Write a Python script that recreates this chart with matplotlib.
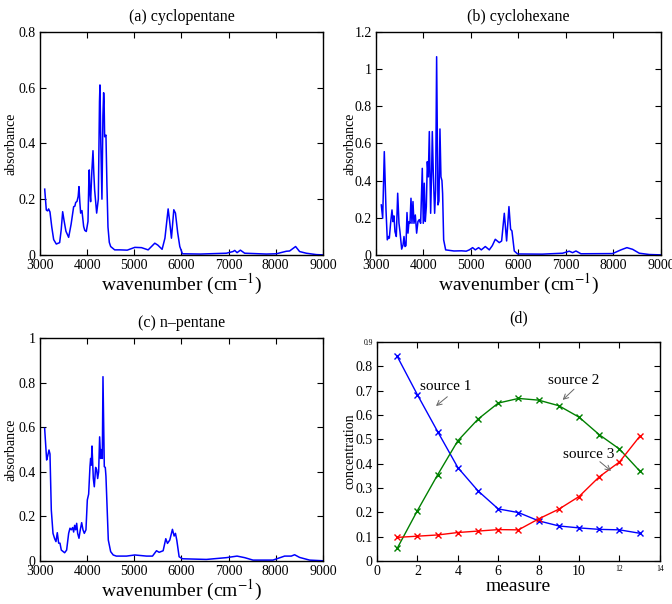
import matplotlib
matplotlib.use('Agg')
import matplotlib.pyplot as plt
from matplotlib.ticker import FuncFormatter

plt.rcParams['font.family'] = ['Liberation Serif', 'DejaVu Serif']
plt.rcParams['mathtext.fontset'] = 'stix'

# (a) cyclopentane
wn_a = [3100, 3134, 3160, 3183, 3212, 3250, 3290, 3346, 3417, 3450, 3481, 3509, 3550, 3608,
        3660, 3714, 3740, 3757, 3785, 3810, 3827, 3845, 3862, 3890, 3926, 3950, 3982, 4018,
        4040, 4046, 4060, 4074, 4100, 4124, 4140, 4159, 4202, 4237, 4262, 4272, 4290, 4314,
        4335, 4350, 4360, 4371, 4399, 4420, 4442, 4470, 4499, 4584, 4700, 4850, 5012, 5153,
        5294, 5435, 5500, 5590, 5650, 5718, 5750, 5788, 5838, 5873, 5920, 5965, 6021, 6400,
        6953, 7094, 7130, 7180, 7250, 7341, 7800, 8012, 8224, 8294, 8421, 8506, 8647, 8859, 9000]
abs_a = [0.236, 0.161, 0.158, 0.165, 0.154, 0.10, 0.055, 0.039, 0.044, 0.09, 0.155, 0.125, 0.085, 0.063,
         0.11, 0.173, 0.175, 0.188, 0.192, 0.21, 0.245, 0.19, 0.150, 0.159, 0.102, 0.088, 0.084, 0.12,
         0.30, 0.305, 0.22, 0.191, 0.30, 0.374, 0.30, 0.233, 0.150, 0.20, 0.55, 0.610, 0.40, 0.200,
         0.50, 0.582, 0.55, 0.424, 0.430, 0.25, 0.10, 0.045, 0.03, 0.018, 0.018, 0.017, 0.027, 0.026,
         0.018, 0.042, 0.035, 0.020, 0.06, 0.165, 0.12, 0.060, 0.162, 0.150, 0.08, 0.030, 0.004, 0.003,
         0.006, 0.012, 0.016, 0.008, 0.017, 0.006, 0.003, 0.004, 0.013, 0.014, 0.030, 0.012, 0.006, 0.001, 0.0]

# (b) cyclohexane
wn_b = [3112, 3141, 3175, 3211, 3238, 3267, 3281, 3309, 3337, 3358, 3379, 3400, 3428, 3457,
        3484, 3505, 3541, 3570, 3590, 3611, 3632, 3653, 3674, 3695, 3716, 3737, 3758, 3779,
        3800, 3828, 3856, 3884, 3912, 3940, 3975, 3996, 4017, 4038, 4060, 4081, 4102, 4123,
        4151, 4172, 4186, 4207, 4235, 4256, 4277, 4305, 4326, 4347, 4368, 4389, 4403, 4425,
        4467, 4642, 4800, 4900, 4965, 5035, 5091, 5161, 5218, 5302, 5386, 5450, 5512, 5596,
        5646, 5702, 5751, 5800, 5835, 5863, 5912, 5982, 6500, 6930, 7070, 7140, 7211, 7316,
        7982, 8158, 8284, 8404, 8544, 8754, 9000]
abs_b = [0.269, 0.197, 0.556, 0.242, 0.081, 0.099, 0.090, 0.174, 0.242, 0.179, 0.210, 0.125, 0.099, 0.332,
         0.171, 0.125, 0.031, 0.054, 0.099, 0.045, 0.050, 0.228, 0.117, 0.179, 0.170, 0.305, 0.170, 0.287,
         0.170, 0.215, 0.117, 0.180, 0.190, 0.170, 0.466, 0.170, 0.386, 0.180, 0.260, 0.502, 0.420, 0.664,
         0.224, 0.450, 0.664, 0.440, 0.224, 0.350, 1.067, 0.269, 0.290, 0.678, 0.420, 0.400, 0.330, 0.081,
         0.027, 0.021, 0.022, 0.020, 0.027, 0.039, 0.027, 0.039, 0.027, 0.045, 0.027, 0.05, 0.084, 0.066,
         0.075, 0.224, 0.075, 0.260, 0.138, 0.129, 0.021, 0.005, 0.004, 0.009, 0.020, 0.012, 0.021, 0.006,
         0.007, 0.027, 0.039, 0.030, 0.009, 0.002, 0.0]

# (c) n-pentane
wn_c = [3099, 3141, 3162, 3191, 3212, 3240, 3276, 3311, 3339, 3367, 3396, 3424, 3452, 3523,
        3565, 3608, 3636, 3664, 3692, 3714, 3735, 3757, 3778, 3799, 3827, 3855, 3884, 3912,
        3940, 3975, 4004, 4032, 4060, 4074, 4088, 4103, 4131, 4152, 4180, 4202, 4223, 4244,
        4265, 4286, 4307, 4322, 4336, 4364, 4385, 4399, 4420, 4449, 4499, 4553, 4618, 4835,
        5012, 5259, 5386, 5471, 5527, 5612, 5668, 5704, 5753, 5809, 5845, 5873, 5901, 5951,
        6021, 6529, 6953, 7179, 7341, 7518, 7941, 8188, 8329, 8400, 8506, 8718, 9000]
abs_c = [0.595, 0.453, 0.470, 0.498, 0.480, 0.229, 0.124, 0.100, 0.087, 0.127, 0.080, 0.080, 0.049, 0.037,
         0.049, 0.124, 0.147, 0.140, 0.150, 0.130, 0.160, 0.140, 0.169, 0.124, 0.102, 0.140, 0.172, 0.140,
         0.124, 0.140, 0.274, 0.300, 0.423, 0.460, 0.430, 0.516, 0.370, 0.333, 0.420, 0.410, 0.370, 0.400,
         0.557, 0.460, 0.500, 0.460, 0.827, 0.423, 0.420, 0.380, 0.260, 0.094, 0.042, 0.027, 0.022, 0.022,
         0.027, 0.022, 0.022, 0.046, 0.039, 0.046, 0.100, 0.079, 0.094, 0.142, 0.112, 0.124, 0.094, 0.019,
         0.010, 0.007, 0.015, 0.022, 0.015, 0.004, 0.004, 0.022, 0.022, 0.028, 0.016, 0.004, 0.001]

# (d) concentrations
measure = list(range(1, 14))
src1 = [0.841, 0.683, 0.532, 0.384, 0.288, 0.214, 0.199, 0.165, 0.144, 0.136, 0.130, 0.128, 0.114]
src2 = [0.052, 0.207, 0.354, 0.494, 0.583, 0.649, 0.668, 0.661, 0.638, 0.591, 0.519, 0.460, 0.370]
src3 = [0.097, 0.102, 0.107, 0.117, 0.123, 0.129, 0.128, 0.173, 0.213, 0.265, 0.346, 0.407, 0.512]

fmt = FuncFormatter(lambda v, p: '%g' % round(v, 6))


def style(ax):
    ax.tick_params(direction='in', top=True, right=True, length=4, labelsize=10, pad=3)
    for s in ax.spines.values():
        s.set_linewidth(1.0)
    ax.yaxis.set_major_formatter(fmt)
    ax.xaxis.set_major_formatter(fmt)


def spectrum(rect, wn, ab, ymax, title, ylab_x):
    ax = fig.add_axes(rect)
    ax.plot(wn, ab, color='blue', lw=1.1)
    ax.set_xlim(3000, 9000)
    ax.set_ylim(0, ymax)
    ax.set_xticks(range(3000, 9001, 1000))
    ax.set_yticks([i * 0.2 for i in range(int(round(ymax / 0.2)) + 1)])
    style(ax)
    ax.set_title(title, fontsize=11.5, pad=8)
    ax.set_xlabel(r'wavenumber (cm$^{-1}$)', fontsize=14, labelpad=0)
    ax.set_ylabel('absorbance', fontsize=10)
    ax.yaxis.set_label_coords(ylab_x, 0.5)
    return ax


fig = plt.figure(figsize=(6.72, 6.04), dpi=100)

spectrum([0.0595, 0.578, 0.421, 0.369], wn_a, abs_a, 0.8, '(a) cyclopentane', -0.078)
spectrum([0.5595, 0.578, 0.424, 0.369], wn_b, abs_b, 1.2, '(b) cyclohexane', -0.070)
spectrum([0.0595, 0.0712, 0.421, 0.369], wn_c, abs_c, 1.0, '(c) n\u2013pentane', -0.078)

ax = fig.add_axes([0.561, 0.0712, 0.421, 0.3626])
ax.plot(measure, src1, color='blue', marker='x', ms=4.5, lw=1.0)
ax.plot(measure, src2, color=(0, 0.5, 0), marker='x', ms=4.5, lw=1.0)
ax.plot(measure, src3, color='red', marker='x', ms=4.5, lw=1.0)
ax.set_xlim(0, 14)
ax.set_ylim(0, 0.9)
ax.set_xticks(range(0, 15, 2))
ax.set_yticks([i / 10 for i in range(10)])
style(ax)
ax.set_title('(d)', fontsize=11.5, pad=14)
ax.set_xlabel('measure', fontsize=14, labelpad=0)
ax.set_ylabel('concentration', fontsize=10)
ax.yaxis.set_label_coords(-0.074, 0.5)
for lab in ax.get_xticklabels()[-2:]:
    lab.set_fontsize(5.5)
ax.get_yticklabels()[-1].set_fontsize(5.5)

arrow = dict(arrowstyle='->,head_length=0.35,head_width=0.18', color='0.4', lw=0.7,
             shrinkA=0, shrinkB=0)
ax.annotate('', xy=(2.92, 0.637), xytext=(3.48, 0.675), arrowprops=arrow)
ax.text(2.13, 0.716, 'source 1', fontsize=11, va='center')
ax.annotate('', xy=(9.19, 0.662), xytext=(9.75, 0.706), arrowprops=arrow)
ax.text(8.47, 0.741, 'source 2', fontsize=11, va='center')
ax.annotate('', xy=(11.58, 0.370), xytext=(11.03, 0.408), arrowprops=arrow)
ax.text(9.22, 0.436, 'source 3', fontsize=11, va='center')

fig.savefig('out.png', dpi=100)
